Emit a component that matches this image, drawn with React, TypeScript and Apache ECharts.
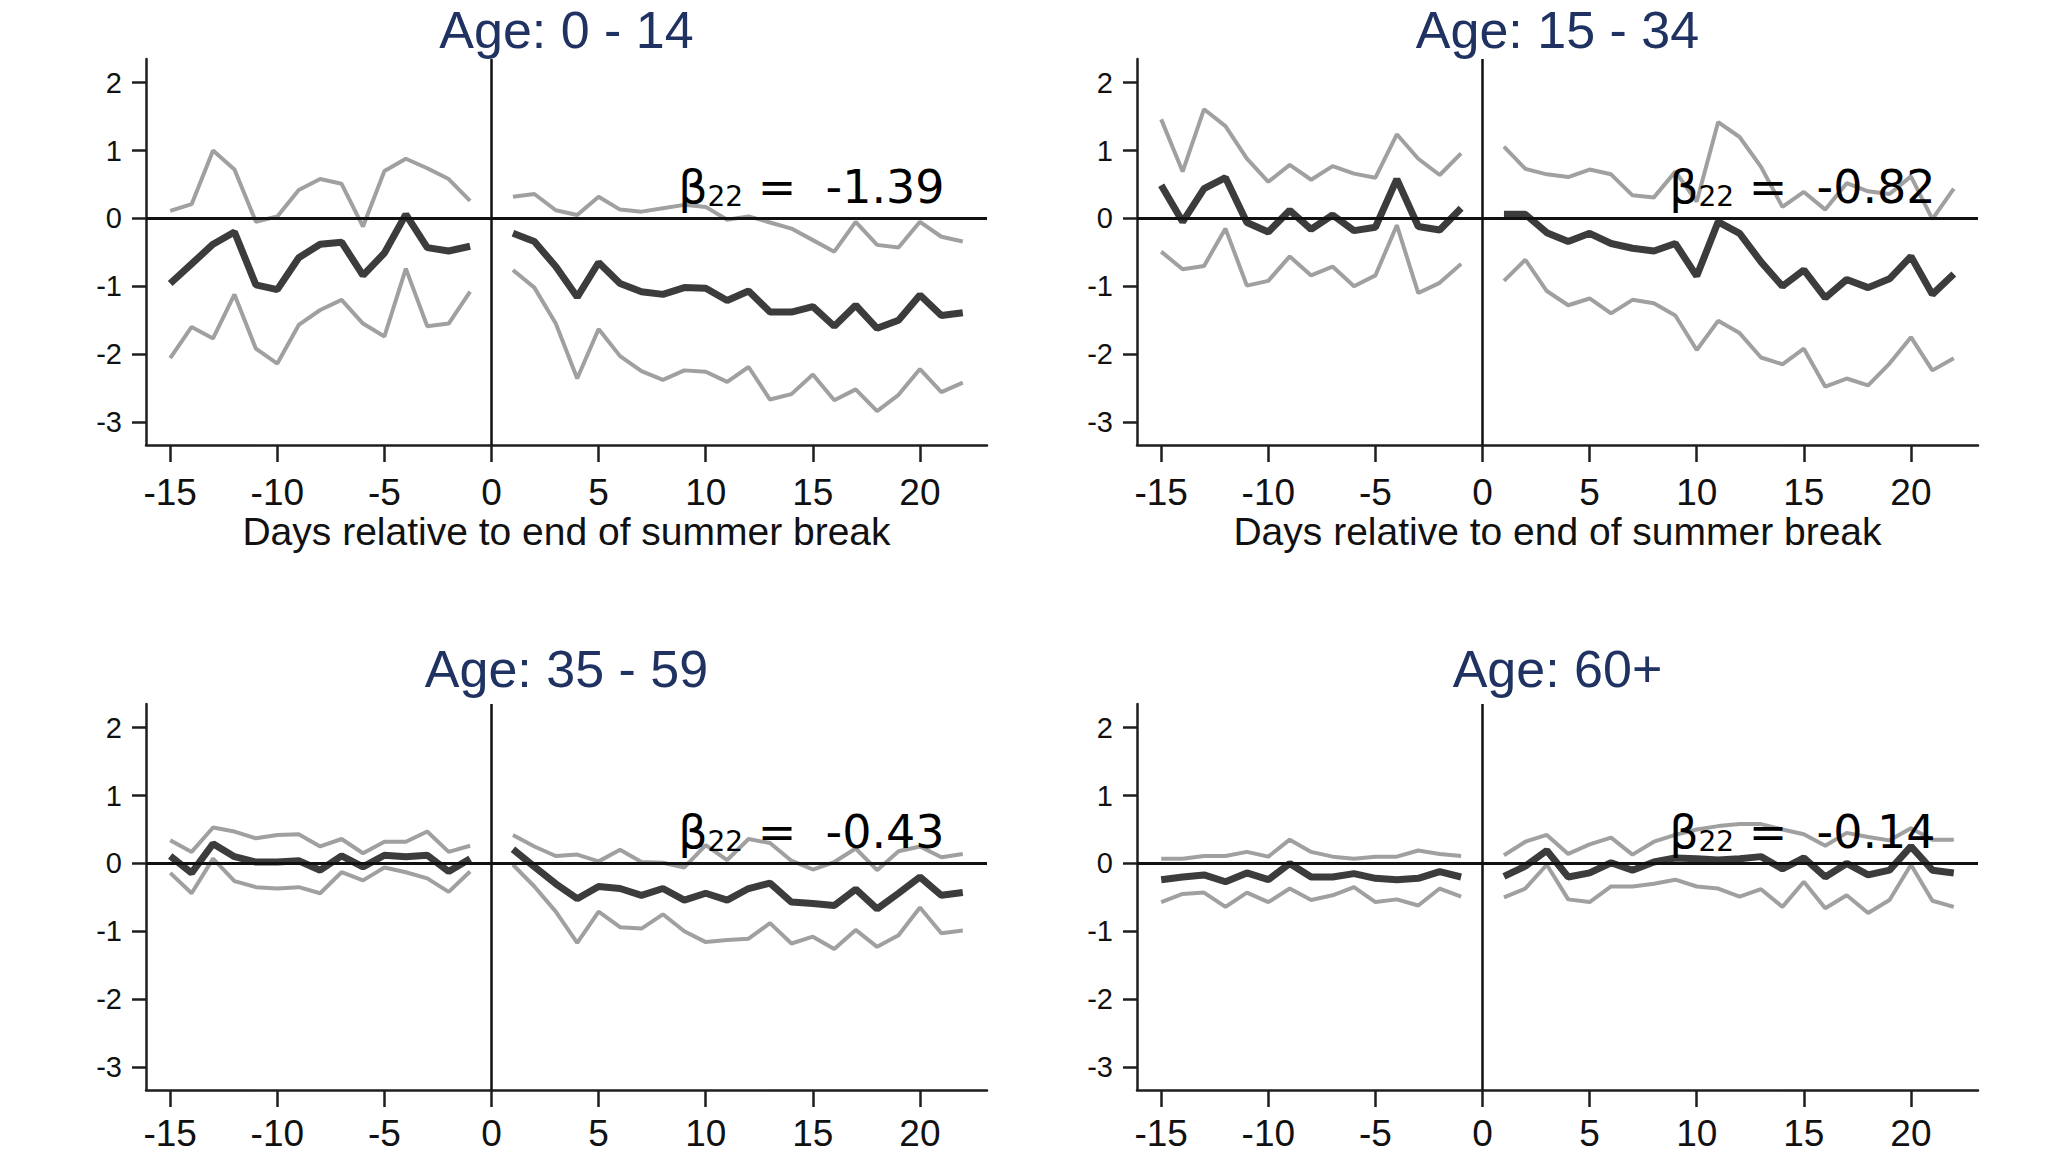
import React, { useEffect, useRef } from "react";
import * as echarts from "echarts";

// ---------- data ----------
const PRE_DAYS = [-15, -14, -13, -12, -11, -10, -9, -8, -7, -6, -5, -4, -3, -2, -1];
const POST_DAYS = [1, 2, 3, 4, 5, 6, 7, 8, 9, 10, 11, 12, 13, 14, 15, 16, 17, 18, 19, 20, 21, 22];
const X_TICKS = [-15, -10, -5, 0, 5, 10, 15, 20];
const Y_TICKS = [-3, -2, -1, 0, 1, 2];

const PANEL_TITLES = ["Age: 0 - 14", "Age: 15 - 34", "Age: 35 - 59", "Age: 60+"];
const BETA22 = ["-1.39", "-0.82", "-0.43", "-0.14"];
const X_TITLE = "Days relative to end of summer break";

// Age 0 - 14
const A_PRE_EST = [-0.96, -0.67, -0.38, -0.2, -0.98, -1.05, -0.58, -0.38, -0.35, -0.84, -0.51, 0.06, -0.43, -0.48, -0.41];
const A_PRE_HI = [0.11, 0.21, 1.0, 0.72, -0.05, 0.03, 0.42, 0.58, 0.51, -0.12, 0.7, 0.88, 0.74, 0.58, 0.26];
const A_PRE_LO = [-2.06, -1.6, -1.77, -1.12, -1.92, -2.14, -1.57, -1.35, -1.2, -1.55, -1.74, -0.74, -1.59, -1.55, -1.08];
const A_POST_EST = [-0.22, -0.34, -0.71, -1.16, -0.65, -0.96, -1.08, -1.12, -1.02, -1.03, -1.21, -1.07, -1.38, -1.38, -1.3, -1.59, -1.28, -1.62, -1.5, -1.13, -1.43, -1.39];
const A_POST_HI = [0.32, 0.36, 0.12, 0.05, 0.32, 0.13, 0.1, 0.15, 0.2, 0.17, -0.02, 0.03, -0.06, -0.15, -0.32, -0.49, -0.05, -0.39, -0.43, -0.05, -0.27, -0.34];
const A_POST_LO = [-0.76, -1.02, -1.55, -2.36, -1.63, -2.03, -2.25, -2.38, -2.24, -2.26, -2.41, -2.19, -2.67, -2.59, -2.3, -2.68, -2.52, -2.84, -2.6, -2.22, -2.56, -2.42];

// Age 15 - 34
const B_PRE_EST = [0.49, -0.05, 0.44, 0.6, -0.06, -0.2, 0.12, -0.16, 0.05, -0.18, -0.13, 0.58, -0.12, -0.17, 0.15];
const B_PRE_HI = [1.46, 0.69, 1.61, 1.36, 0.88, 0.54, 0.79, 0.57, 0.77, 0.66, 0.6, 1.24, 0.88, 0.64, 0.96];
const B_PRE_LO = [-0.49, -0.75, -0.7, -0.15, -0.99, -0.92, -0.56, -0.84, -0.71, -1.0, -0.84, -0.1, -1.1, -0.95, -0.67];
const B_POST_EST = [0.06, 0.06, -0.21, -0.34, -0.22, -0.37, -0.44, -0.48, -0.37, -0.85, -0.05, -0.22, -0.64, -1.0, -0.76, -1.17, -0.9, -1.02, -0.89, -0.56, -1.12, -0.82];
const B_POST_HI = [1.06, 0.73, 0.65, 0.61, 0.72, 0.65, 0.34, 0.31, 0.69, 0.25, 1.42, 1.2, 0.76, 0.17, 0.39, 0.13, 0.52, 0.4, 0.36, 0.62, -0.01, 0.44];
const B_POST_LO = [-0.92, -0.61, -1.07, -1.28, -1.18, -1.4, -1.2, -1.25, -1.43, -1.94, -1.51, -1.69, -2.05, -2.15, -1.92, -2.48, -2.36, -2.46, -2.14, -1.75, -2.24, -2.06];

// Age 35 - 59
const C_PRE_EST = [0.11, -0.14, 0.29, 0.1, 0.02, 0.02, 0.04, -0.1, 0.11, -0.05, 0.12, 0.1, 0.12, -0.12, 0.07];
const C_PRE_HI = [0.34, 0.17, 0.53, 0.47, 0.37, 0.42, 0.43, 0.25, 0.36, 0.15, 0.32, 0.32, 0.47, 0.17, 0.26];
const C_PRE_LO = [-0.14, -0.44, 0.07, -0.26, -0.35, -0.37, -0.35, -0.44, -0.13, -0.25, -0.06, -0.13, -0.22, -0.42, -0.12];
const C_POST_EST = [0.21, -0.05, -0.3, -0.52, -0.34, -0.37, -0.47, -0.37, -0.54, -0.44, -0.54, -0.37, -0.29, -0.57, -0.59, -0.62, -0.38, -0.67, -0.44, -0.2, -0.47, -0.43];
const C_POST_HI = [0.42, 0.25, 0.11, 0.13, 0.03, 0.2, 0.02, 0.01, -0.06, 0.27, 0.05, 0.36, 0.3, 0.04, -0.09, 0.02, 0.22, -0.1, 0.18, 0.25, 0.09, 0.14];
const C_POST_LO = [-0.02, -0.34, -0.71, -1.17, -0.71, -0.94, -0.96, -0.75, -1.0, -1.16, -1.13, -1.11, -0.88, -1.18, -1.08, -1.26, -0.98, -1.23, -1.06, -0.65, -1.03, -0.99];

// Age 60+
const D_PRE_EST = [-0.24, -0.2, -0.17, -0.27, -0.14, -0.24, 0.0, -0.2, -0.2, -0.15, -0.22, -0.24, -0.22, -0.12, -0.2];
const D_PRE_HI = [0.07, 0.07, 0.11, 0.11, 0.17, 0.1, 0.35, 0.17, 0.1, 0.07, 0.1, 0.1, 0.19, 0.14, 0.11];
const D_PRE_LO = [-0.57, -0.45, -0.43, -0.64, -0.43, -0.57, -0.37, -0.54, -0.47, -0.35, -0.57, -0.53, -0.62, -0.37, -0.49];
const D_POST_EST = [-0.19, -0.04, 0.19, -0.2, -0.14, 0.01, -0.1, 0.02, 0.08, 0.07, 0.05, 0.07, 0.1, -0.08, 0.08, -0.2, 0.0, -0.17, -0.1, 0.25, -0.1, -0.14];
const D_POST_HI = [0.12, 0.32, 0.42, 0.14, 0.28, 0.38, 0.13, 0.32, 0.42, 0.5, 0.55, 0.58, 0.58, 0.5, 0.43, 0.26, 0.45, 0.39, 0.34, 0.52, 0.35, 0.35];
const D_POST_LO = [-0.5, -0.37, -0.02, -0.53, -0.57, -0.34, -0.34, -0.3, -0.24, -0.34, -0.37, -0.49, -0.38, -0.64, -0.27, -0.66, -0.47, -0.73, -0.54, -0.02, -0.55, -0.64];

const PANELS = [
  { preEst: A_PRE_EST, preHi: A_PRE_HI, preLo: A_PRE_LO, postEst: A_POST_EST, postHi: A_POST_HI, postLo: A_POST_LO },
  { preEst: B_PRE_EST, preHi: B_PRE_HI, preLo: B_PRE_LO, postEst: B_POST_EST, postHi: B_POST_HI, postLo: B_POST_LO },
  { preEst: C_PRE_EST, preHi: C_PRE_HI, preLo: C_PRE_LO, postEst: C_POST_EST, postHi: C_POST_HI, postLo: C_POST_LO },
  { preEst: D_PRE_EST, preHi: D_PRE_HI, preLo: D_PRE_LO, postEst: D_POST_EST, postHi: D_POST_HI, postLo: D_POST_LO },
];

// ---------- layout / style ----------
const FONT = "'Liberation Sans', Arial, Helvetica, sans-serif";
const GRIDS = [
  { left: 146, top: 59, titleTop: 7 },
  { left: 1137, top: 59, titleTop: 7 },
  { left: 146, top: 704, titleTop: 646 },
  { left: 1137, top: 704, titleTop: 646 },
];
const GRID_W = 841;
const GRID_H = 386;
const X_MIN = -16.13;
const X_MAX = 23.13;
const Y_MIN = -3.34;
const Y_MAX = 2.35;
const BETA_X = 21.15;

const CI_COLOR = "#a0a0a0";
const EST_COLOR = "#3c3c3c";
const AXIS_COLOR = "#1e1e1e";
const TITLE_COLOR = "#1f3262";

const pair = (days: number[], vals: number[]) => days.map((d, i) => [d, vals[i]]);

function buildOption() {
  const grid: any[] = [];
  const xAxis: any[] = [];
  const yAxis: any[] = [];
  const series: any[] = [];
  const title: any[] = [];

  PANELS.forEach((p, k) => {
    const g = GRIDS[k];
    const isTop = k < 2;
    grid.push({ left: g.left, top: g.top, width: GRID_W, height: GRID_H, containLabel: false });
    title.push({
      text: PANEL_TITLES[k],
      left: g.left + GRID_W / 2,
      top: g.titleTop,
      textAlign: "center",
      padding: 0,
      textStyle: { fontFamily: FONT, fontSize: 52, lineHeight: 46, fontWeight: "normal", color: TITLE_COLOR },
    });
    xAxis.push({
      type: "value",
      gridIndex: k,
      min: X_MIN,
      max: X_MAX,
      name: isTop ? X_TITLE : "",
      nameLocation: "middle",
      nameGap: 67,
      nameTextStyle: { fontFamily: FONT, fontSize: 39, color: "#111" },
      axisLine: { show: true, onZero: false, lineStyle: { color: AXIS_COLOR, width: 2.5 } },
      axisTick: { show: true, length: 17, customValues: X_TICKS, lineStyle: { color: AXIS_COLOR, width: 2.5 } },
      axisLabel: {
        customValues: X_TICKS,
        fontFamily: FONT,
        fontSize: 37,
        lineHeight: 36,
        color: "#111",
        margin: isTop ? 29 : 25,
      },
      splitLine: { show: false },
    });
    yAxis.push({
      type: "value",
      gridIndex: k,
      min: Y_MIN,
      max: Y_MAX,
      axisLine: { show: true, onZero: false, lineStyle: { color: AXIS_COLOR, width: 2.5 } },
      axisTick: { show: true, length: 14, customValues: Y_TICKS, lineStyle: { color: AXIS_COLOR, width: 2.5 } },
      axisLabel: { customValues: Y_TICKS, fontFamily: FONT, fontSize: 29, color: "#111", margin: 24 },
      splitLine: { show: false },
    });

    const base = { type: "line", xAxisIndex: k, yAxisIndex: k, showSymbol: false, symbol: "none", silent: true };
    const ci = { ...base, z: 2, lineStyle: { color: CI_COLOR, width: 4 } };
    series.push({ ...ci, data: pair(PRE_DAYS, p.preHi) });
    series.push({ ...ci, data: pair(PRE_DAYS, p.preLo) });
    series.push({ ...ci, data: pair(POST_DAYS, p.postHi) });
    series.push({ ...ci, data: pair(POST_DAYS, p.postLo) });

    // reference lines at y = 0 and x = 0
    series.push({
      ...base,
      z: 3,
      data: [],
      markLine: {
        silent: true,
        symbol: "none",
        animation: false,
        label: { show: false },
        data: [
          { yAxis: 0, lineStyle: { color: "#111", width: 3, type: "solid" } },
          { xAxis: 0, lineStyle: { color: "#111", width: 2.5, type: "solid" } },
        ],
      },
    });

    const est = { ...base, z: 4, lineStyle: { color: EST_COLOR, width: 7 } };
    series.push({ ...est, data: pair(PRE_DAYS, p.preEst) });
    series.push({
      ...est,
      data: pair(POST_DAYS, p.postEst),
      markPoint: {
        silent: true,
        symbol: "circle",
        symbolSize: 1,
        itemStyle: { color: "rgba(0,0,0,0)" },
        data: [{ coord: [BETA_X, 0], value: BETA22[k] }],
        label: {
          show: true,
          position: "inside",
          align: "right",
          verticalAlign: "bottom",
          offset: [0, -8],
          formatter: () => `{b|β}{s|22}{b| =  ${BETA22[k]}}`,
          rich: {
            b: { fontFamily: "'DejaVu Sans', sans-serif", fontSize: 46, lineHeight: 46, color: "#000", verticalAlign: "bottom" },
            s: { fontFamily: "'DejaVu Sans', sans-serif", fontSize: 28, lineHeight: 23, color: "#000", verticalAlign: "bottom" },
          },
        },
      },
    });
  });

  return {
    animation: false,
    backgroundColor: "#ffffff",
    title,
    grid,
    xAxis,
    yAxis,
    series,
  };
}

export default function App() {
  const ref = useRef<HTMLDivElement>(null);
  useEffect(() => {
    if (!ref.current) return;
    const chart = echarts.init(ref.current, null, { renderer: "svg" });
    chart.setOption(buildOption() as any);
    return () => chart.dispose();
  }, []);
  return (
    <div
      ref={ref}
      style={{ position: "fixed", left: 0, top: 0, width: 2048, height: 1152, background: "#fff" }}
    />
  );
}
